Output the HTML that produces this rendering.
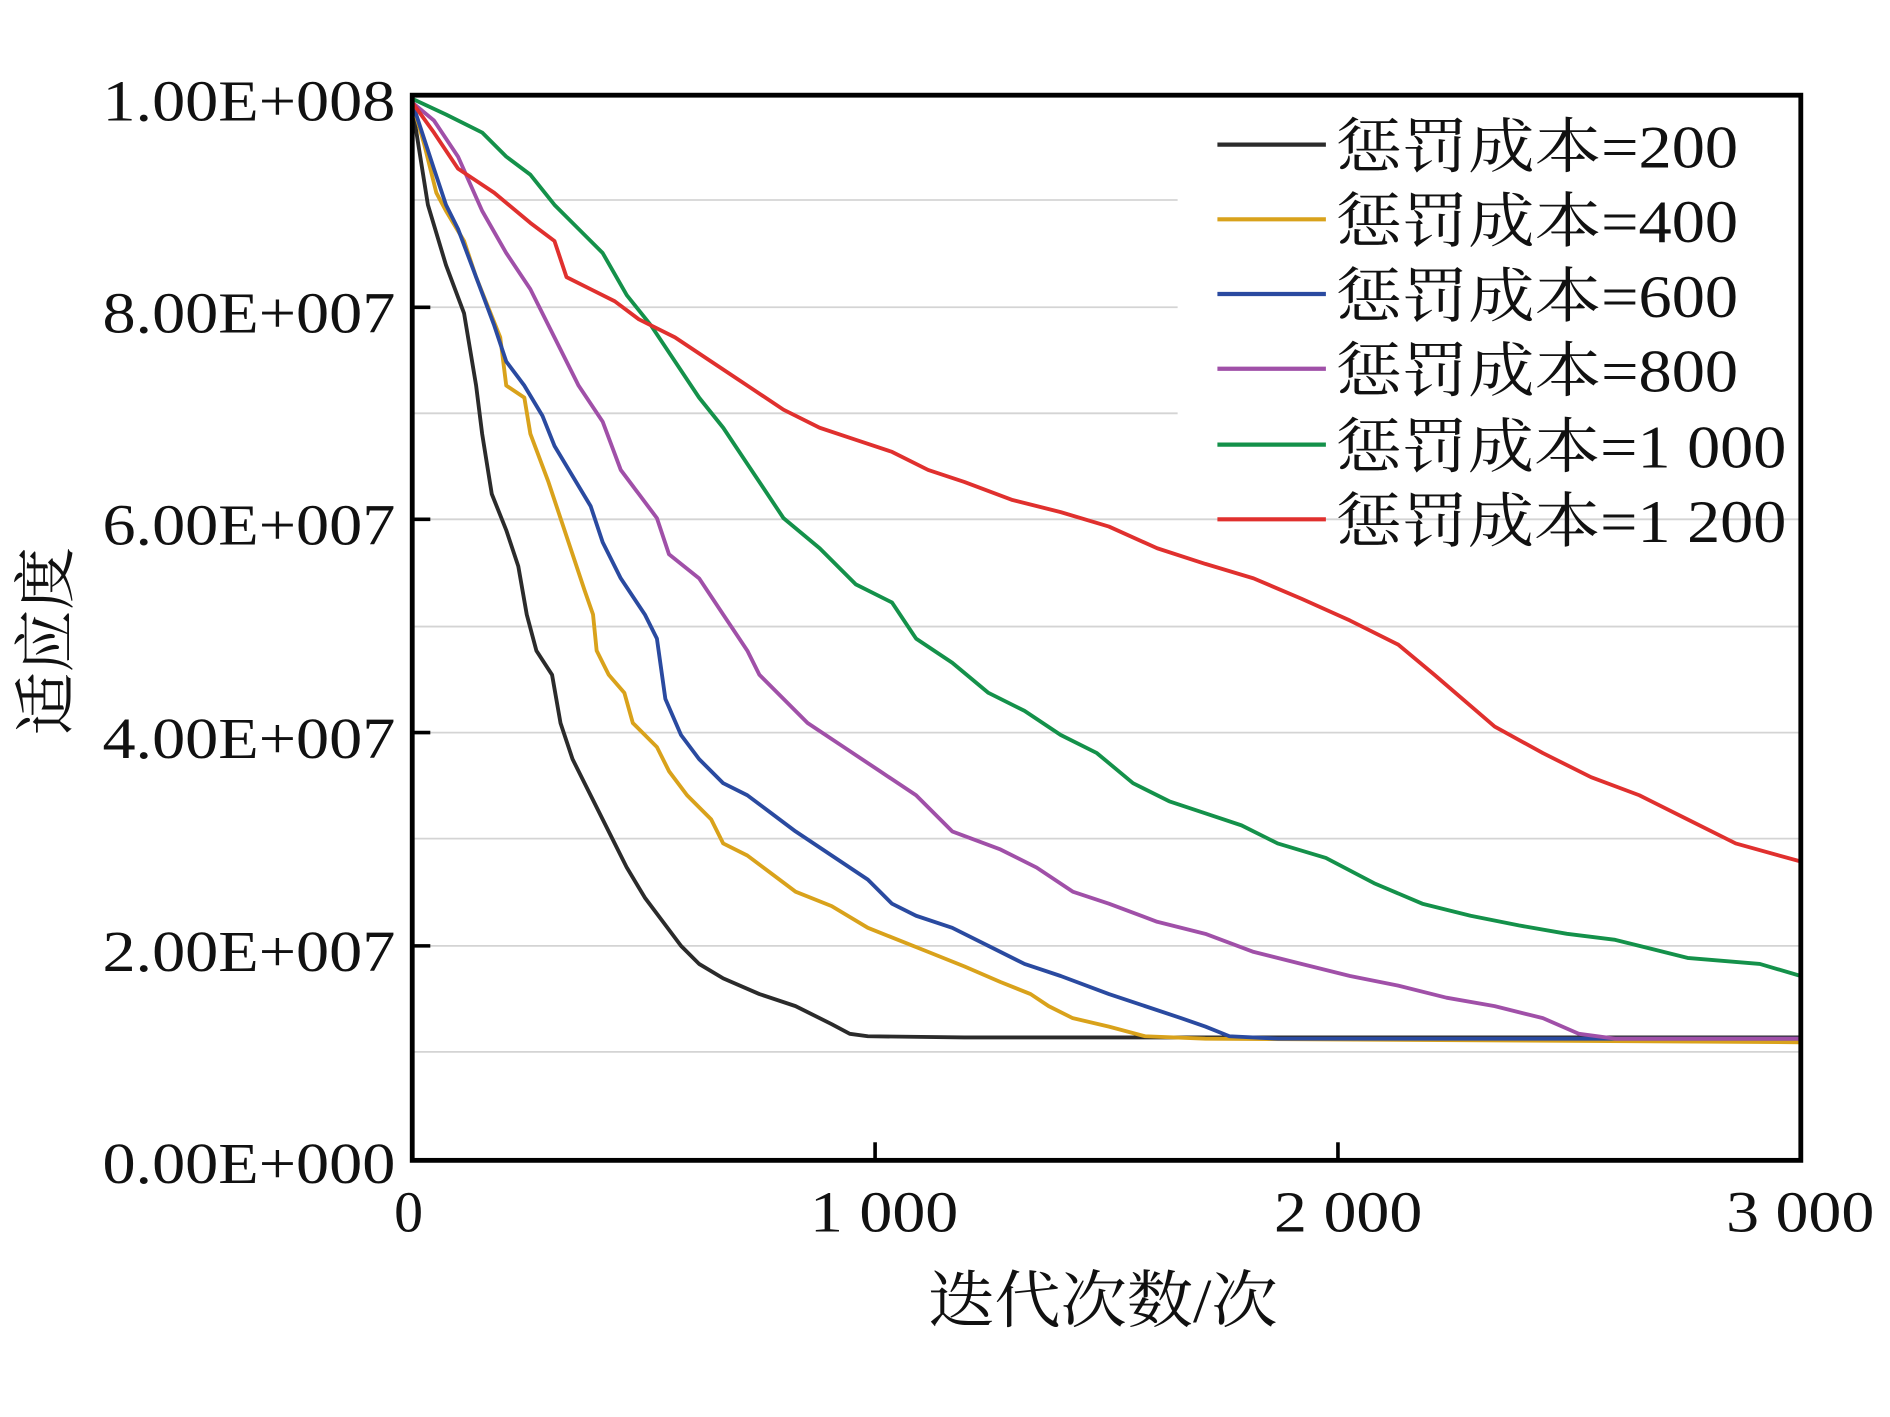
<!DOCTYPE html>
<html><head><meta charset="utf-8"><style>html,body{margin:0;padding:0;background:#fff}svg{display:block}</style></head>
<body>
<svg width="1890" height="1417" viewBox="0 0 1568 1176" preserveAspectRatio="none" xmlns="http://www.w3.org/2000/svg" font-family="'Liberation Serif','Noto Serif CJK SC',serif">
<rect width="1568" height="1176" fill="#fff"/>
<g stroke="#d4d4d4" stroke-width="1.5">
<line x1="342" y1="166" x2="977" y2="166"/><line x1="342" y1="255" x2="977" y2="255"/><line x1="342" y1="343" x2="977" y2="343"/>
<line x1="342" y1="431" x2="1494" y2="431"/><line x1="342" y1="520" x2="1494" y2="520"/><line x1="342" y1="608" x2="1494" y2="608"/>
<line x1="342" y1="696" x2="1494" y2="696"/><line x1="342" y1="785" x2="1494" y2="785"/><line x1="342" y1="873" x2="1494" y2="873"/>
</g>
<g fill="none" stroke-width="3.2" stroke-linejoin="round">
<polyline stroke="#2b2b2b" points="342,88 355,170 370,220 385,260 395,320 400,360 408,410 420,440 430,470 437,510 445,540 458,560 465,600 475,630 485,650 500,680 510,700 520,720 535,745 550,765 565,785 580,800 600,812 630,825 660,835 690,850 705,858 720,860 800,861 1494,861"/>
<polyline stroke="#d9a21b" points="342,85 352,120 362,160 370,175 385,200 395,230 405,255 415,280 420,320 435,330 440,360 455,400 465,430 475,460 485,490 492,510 495,540 505,560 518,575 525,600 545,620 555,640 570,660 590,680 600,700 620,710 640,725 660,740 690,752 720,770 740,778 770,790 800,802 830,815 855,825 870,835 890,845 920,852 950,860 1000,862 1494,865"/>
<polyline stroke="#2a4aa0" points="342,85 360,140 370,170 380,190 395,230 410,270 420,300 435,320 450,345 460,370 475,395 490,420 500,450 515,480 535,510 545,530 552,580 565,610 580,630 600,650 620,660 640,675 660,690 690,710 720,730 740,750 760,760 790,770 820,785 850,800 880,810 920,825 950,835 980,845 1000,852 1020,860 1060,862 1494,862"/>
<polyline stroke="#a050a8" points="342,85 360,100 380,130 400,175 420,210 440,240 460,280 480,320 500,350 515,390 530,410 545,430 555,460 580,480 600,510 620,540 630,560 650,580 670,600 700,620 730,640 760,660 790,690 830,705 860,720 890,740 920,750 960,765 1000,775 1040,790 1080,800 1120,810 1160,818 1200,828 1240,835 1280,845 1310,858 1340,862 1494,862"/>
<polyline stroke="#14914a" points="342,82 370,95 400,110 420,130 440,145 460,170 480,190 500,210 520,245 540,270 560,300 580,330 600,355 620,385 650,430 680,455 710,485 740,500 760,530 790,550 820,575 850,590 880,610 910,625 940,650 970,665 1000,675 1030,685 1060,700 1100,712 1140,733 1180,750 1220,760 1260,768 1300,775 1340,780 1400,795 1460,800 1494,810"/>
<polyline stroke="#e0302e" points="342,85 360,110 380,140 410,160 440,185 460,200 470,230 490,240 510,250 530,265 560,280 590,300 620,320 650,340 680,355 710,365 740,375 770,390 800,400 840,415 880,425 920,437 960,455 1000,468 1040,480 1080,497 1120,515 1160,535 1190,560 1240,603 1280,625 1320,645 1360,660 1400,680 1440,700 1494,715"/>
</g>
<rect x="342" y="79" width="1152" height="884" fill="none" stroke="#000" stroke-width="4"/>
<g stroke="#000" stroke-width="3">
<line x1="342" y1="255" x2="357" y2="255"/><line x1="342" y1="431" x2="357" y2="431"/><line x1="342" y1="608" x2="357" y2="608"/><line x1="342" y1="785" x2="357" y2="785"/>
<line x1="726" y1="963" x2="726" y2="948"/><line x1="1110" y1="963" x2="1110" y2="948"/>
</g>
<g font-size="48" fill="#111">
<text x="85" y="100" textLength="243" lengthAdjust="spacingAndGlyphs">1.00E+008</text>
<text x="85" y="276" textLength="243" lengthAdjust="spacingAndGlyphs">8.00E+007</text>
<text x="85" y="452" textLength="243" lengthAdjust="spacingAndGlyphs">6.00E+007</text>
<text x="85" y="629" textLength="243" lengthAdjust="spacingAndGlyphs">4.00E+007</text>
<text x="85" y="806" textLength="243" lengthAdjust="spacingAndGlyphs">2.00E+007</text>
<text x="85" y="982" textLength="243" lengthAdjust="spacingAndGlyphs">0.00E+000</text>
</g>
<g font-size="48" fill="#111">
<text x="327" y="1022">0</text>
<text x="672" y="1022" textLength="123" lengthAdjust="spacingAndGlyphs">1 000</text>
<text x="1057" y="1022" textLength="123" lengthAdjust="spacingAndGlyphs">2 000</text>
<text x="1432" y="1022" textLength="123" lengthAdjust="spacingAndGlyphs">3 000</text>
</g>
<text x="770" y="1097" font-size="52" textLength="290" lengthAdjust="spacingAndGlyphs" fill="#111">迭代次数/次</text>
<text transform="translate(56,532) rotate(-90)" font-size="52" text-anchor="middle" fill="#111">适应度</text>
<g stroke-width="3.5">
<line x1="1010" y1="120" x2="1100" y2="120" stroke="#2b2b2b"/>
<line x1="1010" y1="182" x2="1100" y2="182" stroke="#d9a21b"/>
<line x1="1010" y1="244" x2="1100" y2="244" stroke="#2a4aa0"/>
<line x1="1010" y1="306" x2="1100" y2="306" stroke="#a050a8"/>
<line x1="1010" y1="369" x2="1100" y2="369" stroke="#14914a"/>
<line x1="1010" y1="431" x2="1100" y2="431" stroke="#e0302e"/>
</g>
<g font-size="50" fill="#111">
<text x="1108" y="139" textLength="334" lengthAdjust="spacingAndGlyphs">惩罚成本=200</text>
<text x="1108" y="201" textLength="334" lengthAdjust="spacingAndGlyphs">惩罚成本=400</text>
<text x="1108" y="263" textLength="334" lengthAdjust="spacingAndGlyphs">惩罚成本=600</text>
<text x="1108" y="325" textLength="334" lengthAdjust="spacingAndGlyphs">惩罚成本=800</text>
<text x="1108" y="388" textLength="374" lengthAdjust="spacingAndGlyphs">惩罚成本=1 000</text>
<text x="1108" y="450" textLength="374" lengthAdjust="spacingAndGlyphs">惩罚成本=1 200</text>
</g>
</svg>
</body></html>
